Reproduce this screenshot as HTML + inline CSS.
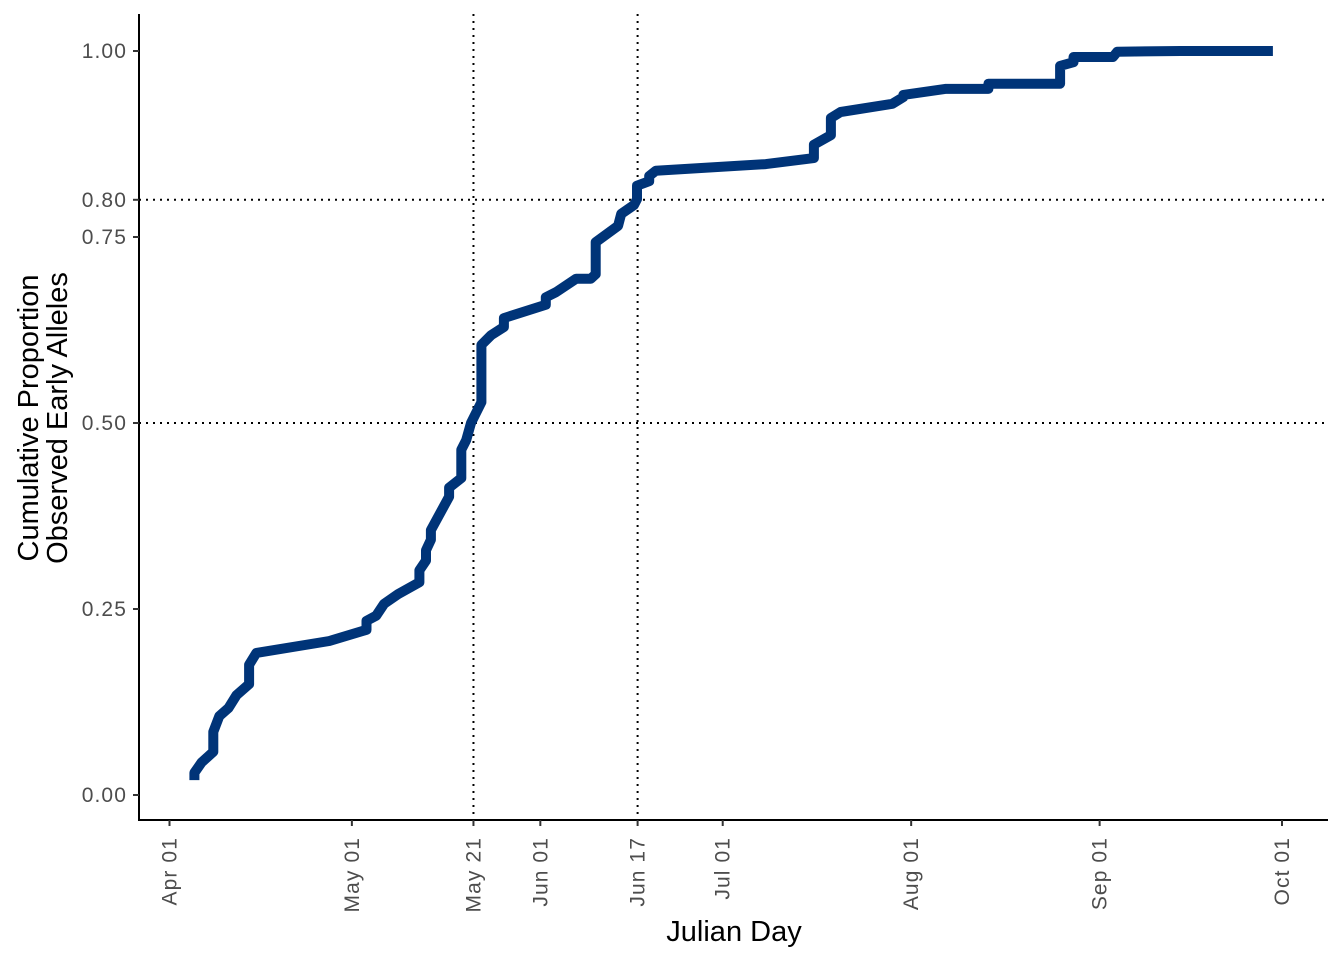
<!DOCTYPE html>
<html><head><meta charset="utf-8"><style>
html,body{margin:0;padding:0;background:#fff;}
svg text{font-family:"Liberation Sans",Arial,sans-serif;}
</style></head><body>
<svg id="chart" width="1344" height="960" xmlns="http://www.w3.org/2000/svg"></svg>
<script>
const days=[4.1,4.1,5.3,7.2,7.2,8.2,9.7,11.0,13.1,13.1,14.3,26.3,32.4,32.4,34.0,35.3,37.6,41.1,41.1,42.2,42.2,43.0,43.0,46.0,46.0,48.0,48.0,48.8,49.6,51.3,51.3,52.9,55.0,55.0,61.9,61.9,63.6,66.9,69.3,70.1,70.1,73.8,74.3,76.4,76.9,76.9,78.9,78.9,80.0,98.1,106.0,106.0,108.8,108.8,110.4,118.9,120.7,120.7,127.6,134.7,134.7,146.5,146.5,148.7,148.7,155.2,155.9,166.3,181.5];
const props=[.020,.030,.044,.058,.085,.106,.117,.134,.149,.175,.191,.207,.222,.234,.241,.257,.270,.286,.302,.315,.329,.343,.356,.401,.413,.426,.464,.477,.500,.528,.605,.618,.629,.641,.659,.669,.676,.694,.694,.700,.743,.765,.781,.793,.801,.819,.825,.832,.839,.848,.856,.874,.887,.910,.918,.929,.938,.941,.949,.949,.956,.956,.980,.985,.992,.992,.999,1,1];
const xTickDays=[0,30,50,61,77,91,122,153,183];
const xTickLabels=["Apr 01","May 01","May 21","Jun 01","Jun 17","Jul 01","Aug 01","Sep 01","Oct 01"];
const yTicks=[0,0.25,0.5,0.75,0.8,1];
const yTickLabels=["0.00","0.25","0.50","0.75","0.80","1.00"];
const vRefDays=[50,77];
const hRefVals=[0.5,0.8];

const NS="http://www.w3.org/2000/svg";
const svg=document.getElementById('chart');
const L=139,R=1328,T=14,B=820;
const x=d=>169.5+d*(1282-169.5)/183;
const y=v=>795-v*744;
function mk(tag,attrs,parent){const e=document.createElementNS(NS,tag);for(const k in attrs)e.setAttribute(k,attrs[k]);(parent||svg).appendChild(e);return e;}

vRefDays.forEach(d=>{
  const l=mk('line',{x1:x(d),x2:x(d),y1:T,y2:B,stroke:'#000','stroke-width':2,'stroke-dasharray':'2,5'});
  
  
});
hRefVals.forEach(v=>{
  const l=mk('line',{x1:L,x2:R,y1:y(v),y2:y(v),stroke:'#000','stroke-width':2,'stroke-dasharray':'2,5'});
  
  
});

const pts=days.map((d,i)=>x(d).toFixed(1)+','+y(props[i]).toFixed(1)).join(' ');
const line=mk('polyline',{points:pts,fill:'none',stroke:'#003478','stroke-width':10,'stroke-linejoin':'round','stroke-linecap':'butt'});



const ax=mk('line',{x1:L,x2:L,y1:T,y2:B+1,stroke:'#000','stroke-width':2});


const bx=mk('line',{x1:L-1,x2:R,y1:B,y2:B,stroke:'#000','stroke-width':2});



yTicks.forEach((v,i)=>{
  const t=mk('line',{x1:L-6,x2:L,y1:y(v),y2:y(v),stroke:'#333','stroke-width':2});
  
  
  const tx=mk('text',{x:L-12,y:y(v)+7,'text-anchor':'end','font-size':21,'letter-spacing':1.1,fill:'#4d4d4d'});
  tx.textContent=yTickLabels[i];
  
  
});
xTickDays.forEach((d,i)=>{
  const t=mk('line',{x1:x(d),x2:x(d),y1:B,y2:B+6,stroke:'#333','stroke-width':2});
  
  
  const tx=mk('text',{x:0,y:0,'text-anchor':'end','font-size':21,'letter-spacing':1.1,fill:'#4d4d4d',transform:`translate(${x(d)+7},${B+17}) rotate(-90)`});
  tx.textContent=xTickLabels[i];
  
  
});

const xt=mk('text',{x:734,y:941,'text-anchor':'middle','font-size':29,fill:'#000'});
xt.textContent='Julian Day';


const yt=mk('text',{x:0,y:0,'text-anchor':'middle','font-size':29,fill:'#000',transform:'translate(38,418) rotate(-90)'});


const s1=mk('tspan',{x:0,dy:0},yt);s1.textContent='Cumulative Proportion';
const s2=mk('tspan',{x:0,dy:29},yt);s2.textContent='Observed Early Alleles';
</script>
</body></html>
